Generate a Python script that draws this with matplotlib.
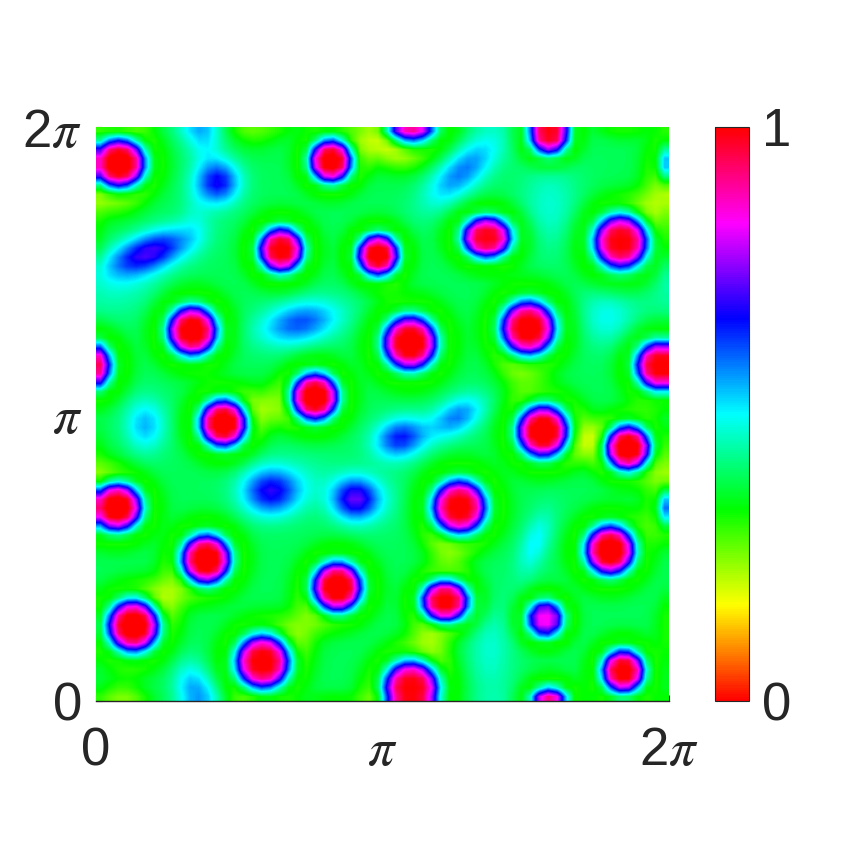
import numpy as np
import matplotlib
matplotlib.use("Agg")
import matplotlib.pyplot as plt
from matplotlib.colors import LinearSegmentedColormap

plt.rcParams['font.family'] = ['Liberation Sans', 'DejaVu Sans']
plt.rcParams['mathtext.fontset'] = 'stix'

# strong spots, as fractions of the period 2*pi
spot_x = [.040,.410,.323,.492,.168,.984,.382,.222,.754,.548,.550,.791,.682,.916,.036,.192,.065,.291,.421,.780,.928,.634,.897,.609,.784,.920]
spot_y = [.937,.941,.786,.777,.645,.584,.530,.484,.650,.624,.022,.988,.808,.800,.338,.247,.131,.068,.199,.470,.441,.338,.263,.174,.143,.052]
spot_rx = [.045,.036,.038,.035,.042,.041,.040,.040,.046,.046,.047,.033,.042,.046,.043,.042,.044,.046,.042,.044,.038,.046,.042,.040,.031,.036]
spot_ry = [.042,.036,.038,.035,.042,.041,.040,.040,.046,.046,.047,.033,.035,.046,.040,.042,.044,.046,.042,.044,.038,.046,.042,.035,.031,.036]
spot_peak = [1.04,1.03,1.01,1.03,1.03,1.01,1.04,1.04,1.02,1.03,1.00,.99,.99,1.00,1.04,1.04,1.04,1.01,1.04,1.04,1.04,1.01,1.04,1.01,.84,1.02]

# soft blobs: blue patches, cyan valleys, yellow-green patches
soft_x = [.213,.094,.356,.639,.086,.304,.452,.161,.531,.630,.766,
          .190,.173,.042,.356,.892,.792,.688,.496,
          .298,.483,.531,.979,.124,.361,.857,.583,.613,.002,.269,.042,.047,.735]
soft_y = [.904,.782,.659,.922,.481,.364,.352,.028,.458,.495,.275,
          .995,.847,.716,.385,.669,.864,.089,.350,
          .512,.977,.960,.868,.185,.129,.455,.101,.263,.402,.995,.873,.007,.564]
soft_rx = [.038,.076,.072,.080,.036,.050,.040,.028,.046,.052,.060,
           .030,.025,.080,.080,.050,.050,.040,.050,
           .040,.040,.040,.040,.040,.040,.040,.040,.040,.040,.040,.040,.040,.040]
soft_ry = [.038,.032,.036,.034,.046,.040,.036,.044,.034,.030,.024,
           .050,.060,.050,.050,.050,.080,.090,.050,
           .040,.040,.040,.040,.040,.040,.040,.040,.040,.040,.040,.040,.040,.040]
soft_angle = [0,20,12,42,0,0,0,0,15,30,70,
              0,0,20,0,0,0,0,0,
              0,0,0,0,0,0,0,0,0,0,0,0,0,0]
soft_amp = [.29,.32,.23,.20,.16,.28,.33,.12,.27,.20,.12,
            .14,.05,.06,.05,.10,.08,.08,.04,
            -.10,-.09,-.09,-.11,-.10,-.09,-.09,-.09,-.08,-.07,-.05,-.05,-.07,-.07]
background = 0.39
grid_n = 64

hue_colors = ['#ff0000', '#ffff00', '#00ff00', '#00ffff', '#0000ff', '#ff00ff', '#ff0000']
cmap = LinearSegmentedColormap.from_list('hue', hue_colors, N=256)

u = (np.arange(grid_n) + .5) / grid_n
X, Y = np.meshgrid(u, u)


def wrap(d):
    return (d + .5) % 1 - .5


Z = np.full(X.shape, background)
for x0, y0, amp, rx, ry, ang in zip(soft_x, soft_y, soft_amp, soft_rx, soft_ry, soft_angle):
    dx, dy = wrap(X - x0), wrap(Y - y0)
    t = np.radians(ang)
    a = dx * np.cos(t) + dy * np.sin(t)
    b = -dx * np.sin(t) + dy * np.cos(t)
    Z += amp * np.exp(-(a / rx) ** 2 - (b / ry) ** 2)
for x0, y0, rx, ry, pk in zip(spot_x, spot_y, spot_rx, spot_ry, spot_peak):
    dx, dy = wrap(X - x0), wrap(Y - y0)
    r = np.sqrt((dx / rx) ** 2 + (dy / ry) ** 2)
    Z -= 0.07 * np.exp(-((r - 1.6) / 0.5) ** 2)
    w = np.exp(-r ** 4)
    Z = Z * (1 - w) + pk * w

S = 860
fig = plt.figure(figsize=(8.6, 8.6), dpi=100)
ax = fig.add_axes([96 / S, 1 - 701 / S, 573 / S, 574 / S])
cax = fig.add_axes([715 / S, 1 - 701 / S, 34 / S, 574 / S])

two_pi = 2 * np.pi
im = ax.imshow(Z, origin='lower', extent=[0, two_pi, 0, two_pi], cmap=cmap, vmin=0, vmax=1,
               interpolation='bilinear', interpolation_stage='data', aspect='auto', zorder=1)

tick_color = '#262626'
ax.set_axisbelow(True)
for s in ['top', 'right', 'left']:
    ax.spines[s].set_visible(False)
ax.spines['bottom'].set_color(tick_color)
ax.spines['bottom'].set_linewidth(1.0)
ax.set_xticks([0, np.pi, two_pi])
ax.set_xticklabels(['0', r'$\pi$', r'2$\pi$'])
ax.set_yticks([0, np.pi, two_pi])
ax.set_yticklabels(['0', r'$\pi$', r'2$\pi$'])
ax.tick_params(axis='both', direction='in', length=4.5, width=0.8, color=tick_color,
               labelcolor=tick_color, labelsize=38)
ax.tick_params(axis='x', pad=18)
ax.tick_params(axis='y', pad=10)

cb = fig.colorbar(im, cax=cax, ticks=[0, 1])
cb.ax.tick_params(length=0, labelsize=38, labelcolor=tick_color, pad=9)
cb.ax.set_yticklabels(['0', '1'])
cb.outline.set_edgecolor(tick_color)
cb.outline.set_linewidth(0.8)

fig.savefig('out.png', dpi=100)
